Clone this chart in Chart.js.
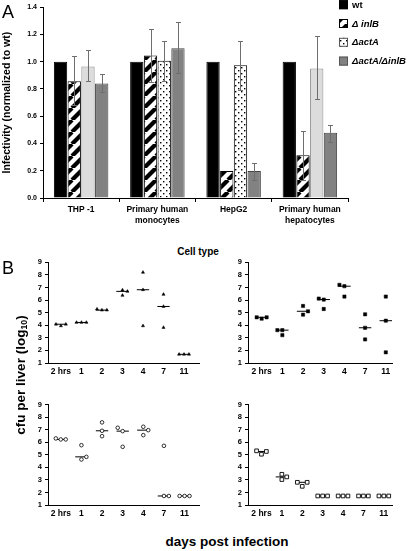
<!DOCTYPE html>
<html>
<head>
<meta charset="utf-8">
<script src="https://cdn.jsdelivr.net/npm/chart.js@4.4.1/dist/chart.umd.min.js"></script>
<style>
    body { margin: 0; background: #fff; width: 410px; height: 551px; position: relative; overflow: hidden; font-family: "Liberation Sans", Arial, sans-serif; }
    canvas { position: absolute; }
    .txt { position: absolute; white-space: nowrap; color: #000; line-height: 1; }
    .mid { transform: translate(-50%, -50%); font-weight: bold; }
    .rot { transform: translate(-50%, -50%) rotate(-90deg); font-weight: bold; }
    sub { font-size: 0.65em; vertical-align: -0.25em; }
</style>
</head>
<body>
<canvas id="barChart" width="410" height="236" style="left:0;top:0"></canvas>
<div class="txt" style="left:2px;top:3px;font-size:18px">A</div>
<div class="txt" style="left:2px;top:259px;font-size:18px">B</div>
<div class="txt mid" style="left:198px;top:252px;font-size:10px">Cell type</div>
<div class="txt rot" style="left:21px;top:375px;font-size:13.5px">cfu per liver (log<sub>10</sub>)</div>
<div class="txt mid" style="left:227px;top:542px;font-size:13.5px">days post infection</div>
<script>
// panel A: infectivity per cell type, normalized to wt
const cellTypes = [['THP -1'], ['Primary human', 'monocytes'], ['HepG2'], ['Primary human', 'hepatocytes']]
const strains = ['wt', 'Δ inlB', 'ΔactA', 'ΔactA/ΔinlB']
const infectivityTicks = [0, 0.2, 0.4, 0.6, 0.8, 1.0, 1.2, 1.4]

const wtInfectivity       = [1, 1, 1, 1]
const inlBInfectivity     = [0.856, 1.046, 0.199, 0.313]
const actAInfectivity     = [0.964, 1.007, 0.974, 0.95]
const actAinlBInfectivity = [0.84, 1.098, 0.199, 0.479]

const inlBErrHi     = [1.039, 1.242, null, 0.495]
const inlBErrLo     = [0.68, 0.85, null, 0.13]
const actAErrHi     = [1.086, 1.151, 1.154, 1.19]
const actAErrLo     = [0.859, 0.86, 0.79, 0.723]
const actAinlBErrHi = [0.91, 1.295, 0.256, 0.533]
const actAinlBErrLo = [0.78, 0.914, 0.134, 0.411]

// panel B: cfu per liver (log10), three mice per time point
const days = ['2 hrs', '1', '2', '3', '4', '7', '11']
const cfuTicks = [1, 2, 3, 4, 5, 6, 7, 8, 9]

const cfuWt       = [[4.08, 3.95, 4.08], [4.22, 4.22, 4.22], [5.28, 5.2, 5.2], [6.8, 6.37, 6.69], [8.2, 6.82, 3.95], [6.45, 5.49, 3.82], [1.69, 1.69, 1.69]]
const cfuInlB     = [[4.63, 4.52, 4.63], [3.61, 3.61, 3.21], [5.53, 4.84, 5.11], [6.12, 6.04, 5.29], [7.21, 7.1, 6.28], [4.87, 3.8, 2.87], [6.28, 4.36, 1.85]]
const cfuActA     = [[6.31, 6.23, 6.23], [5.77, 4.63, 4.84], [7.59, 6.92, 6.49], [7.16, 6.89, 5.64], [7.24, 6.57, 6.97], [5.72, 1.72, 1.72], [1.72, 1.72, 1.72]]
const cfuActAInlB = [[5.32, 5.05, 5.27], [3.45, 3.03, 3.24], [2.81, 2.49, 2.81], [1.72, 1.72, 1.72], [1.72, 1.72, 1.72], [1.72, 1.72, 1.72], [1.72, 1.72, 1.72]]

// which side of the time point each mouse is drawn on (-1 left, 0 centre, 1 right)
const slotsWt       = [[-1, 0, 1], [-1, 0, 1], [-1, 0, 1], [0, 0, 1], [0, 0, 0], [0, 0, 0], [-1, 0, 1]]
const slotsInlB     = [[-1, 0, 1], [-1, 0, 0], [0, 0, 1], [-1, 0, 0], [-1, 0, 0], [0, 0, 0], [0, 0, 0]]
const slotsActA     = [[-1, 0, 1], [0, 0, 1], [0, 0, 0], [-1, 0, 0], [0, 0, 1], [0, 0, 1], [-1, 0, 1]]
const slotsActAInlB = [[-1, 0, 1], [0, 0, 1], [-1, 0, 1], [-1, 0, 1], [-1, 0, 1], [-1, 0, 1], [-1, 0, 1]]

Chart.defaults.font.family = '"Liberation Sans", Arial, sans-serif'
Chart.defaults.color = '#000'

function tile(size, draw) {
    const c = document.createElement('canvas')
    c.width = c.height = size
    const g = c.getContext('2d')
    g.fillStyle = '#fff'
    g.fillRect(0, 0, size, size)
    draw(g)
    return document.getElementById('barChart').getContext('2d').createPattern(c, 'repeat')
}

const hatch = tile(12, g => {
    g.strokeStyle = '#000'
    g.lineWidth = 4.2
    for (const d of [-12, 0, 12]) {
        g.beginPath(); g.moveTo(d, 12); g.lineTo(d + 12, 0); g.stroke()
    }
})
const dots = tile(6, g => {
    g.fillStyle = '#000'
    g.fillRect(1, 1, 1.4, 1.4)
    g.fillRect(4, 4, 1.4, 1.4)
})

const errorBars = {
    id: 'errorBars',
    afterDatasetsDraw(chart) {
        const { ctx, scales: { y } } = chart
        ctx.save()
        ctx.strokeStyle = '#6e6e6e'
        ctx.lineWidth = 1
        chart.data.datasets.forEach((ds, i) => {
            if (!ds.errHi) return
            chart.getDatasetMeta(i).data.forEach((bar, j) => {
                if (ds.errHi[j] == null) return
                const x = Math.round(bar.x) + 0.5
                const yh = Math.round(y.getPixelForValue(ds.errHi[j])) + 0.5
                const yl = Math.round(y.getPixelForValue(ds.errLo[j])) + 0.5
                ctx.beginPath()
                ctx.moveTo(x, yh); ctx.lineTo(x, yl)
                ctx.moveTo(x - 2.5, yh); ctx.lineTo(x + 2.5, yh)
                ctx.moveTo(x - 2.5, yl); ctx.lineTo(x + 2.5, yl)
                ctx.stroke()
            })
        })
        ctx.restore()
    }
}

const legendRows = {
    id: 'legendRows',
    afterDraw(chart) {
        const ctx = chart.ctx
        chart.data.datasets.forEach((ds, i) => {
            const y = 4.7 + i * 18.8
            ctx.save()
            ctx.fillStyle = ds.legendFill
            ctx.fillRect(339, y - 4.5, 9, 9)
            ctx.strokeStyle = ds.legendBorder
            ctx.lineWidth = 1
            ctx.strokeRect(339.5, y - 4, 8, 8)
            ctx.fillStyle = '#000'
            ctx.font = (i === 0 ? 'bold ' : 'italic bold ') + '9.5px "Liberation Sans", Arial'
            ctx.textBaseline = 'middle'
            ctx.fillText(ds.label, 352, y + 0.5)
            ctx.restore()
        })
    }
}

new Chart(document.getElementById('barChart'), {
    type: 'bar',
    data: {
        labels: cellTypes,
        datasets: [
            {
                label: strains[0], data: wtInfectivity,
                backgroundColor: '#000', borderColor: '#000', borderWidth: 1,
                legendFill: '#000', legendBorder: '#000',
            },
            {
                label: strains[1], data: inlBInfectivity, errHi: inlBErrHi, errLo: inlBErrLo,
                backgroundColor: hatch, borderColor: '#000', borderWidth: 1,
                legendFill: hatch, legendBorder: '#000',
            },
            {
                label: strains[2], data: actAInfectivity, errHi: actAErrHi, errLo: actAErrLo,
                backgroundColor: ['#dcdcdc', dots, dots, '#dcdcdc'],
                borderColor: ['#8a8a8a', '#000', '#000', '#8a8a8a'], borderWidth: 1,
                legendFill: dots, legendBorder: '#555',
            },
            {
                label: strains[3], data: actAinlBInfectivity, errHi: actAinlBErrHi, errLo: actAinlBErrLo,
                backgroundColor: '#828282', borderColor: '#444', borderWidth: 1,
                legendFill: '#828282', legendBorder: '#555',
            }
        ]
    },
    options: {
        responsive: false,
        animation: false,
        events: [],
        layout: { padding: { left: 0, top: 3.5, right: 62, bottom: 0 } },
        datasets: { bar: { categoryPercentage: 0.72, barPercentage: 0.97 } },
        plugins: { legend: { display: false }, tooltip: { enabled: false } },
        scales: {
            x: {
                afterFit: s => { s.height = 38 },
                ticks: { font: { size: 8.5, weight: 'bold' }, padding: 3, maxRotation: 0, autoSkip: false },
                grid: { drawOnChartArea: false, tickLength: 4, color: '#000' },
                border: { color: '#000' }
            },
            y: {
                min: 0,
                max: 1.4,
                afterFit: s => { s.width = 43 },
                afterBuildTicks: s => { s.ticks = infectivityTicks.map(value => ({ value })) },
                ticks: { callback: v => v.toFixed(1), font: { size: 7, weight: 'bold' }, padding: 3, autoSkip: false },
                grid: { drawOnChartArea: false, tickLength: 3, color: '#000' },
                border: { color: '#000' },
                title: {
                    display: true, text: 'Infectivity (normalized to wt)',
                    font: { size: 10.5, weight: 'bold' }, padding: { top: 1, bottom: 0 }
                }
            }
        }
    },
    plugins: [errorBars, legendRows]
})

// plot areas of the four liver panels, in page pixels
const panels = [
    { values: cfuWt,       slots: slotsWt,       left: 48,  right: 199, top: 262.3, bottom: 362.7, min: -0.63, max: 6.73, marker: { style: 'triangle', radius: 1.8, fill: '#000', border: 0.5 } },
    { values: cfuInlB,     slots: slotsInlB,     left: 248, right: 392, top: 262.3, bottom: 362.7, min: -0.66, max: 6.3,  marker: { style: 'rect', radius: 2.3, fill: '#000', border: 0.5 } },
    { values: cfuActA,     slots: slotsActA,     left: 48,  right: 199, top: 404.7, bottom: 504.5, min: -0.62, max: 6.7,  marker: { style: 'circle', radius: 1.8, fill: '#fff', border: 0.8 } },
    { values: cfuActAInlB, slots: slotsActAInlB, left: 248, right: 392, top: 404.7, bottom: 504.5, min: -0.66, max: 6.4,  marker: { style: 'rect', radius: 2.6, fill: '#fff', border: 0.9 } },
]

const spread = 0.24
const yAxisWidth = 28
const xAxisHeight = 18

panels.forEach(p => {
    const canvasLeft = p.left - yAxisWidth
    const canvasTop = Math.floor(p.top) - 8
    const canvas = document.createElement('canvas')
    canvas.width = p.right - canvasLeft + 10
    canvas.height = Math.round(p.bottom) - canvasTop + xAxisHeight
    canvas.style.left = canvasLeft + 'px'
    canvas.style.top = canvasTop + 'px'
    document.body.appendChild(canvas)

    const points = []
    const medians = []
    p.values.forEach((reps, i) => {
        reps.forEach((v, k) => points.push({ x: i + p.slots[i][k] * spread, y: v }))
        const m = [...reps].sort((a, b) => a - b)[1]
        medians.push({ x: i - 0.3, y: m }, { x: i + 0.3, y: m }, { x: i + 0.3, y: null })
    })

    new Chart(canvas, {
        type: 'scatter',
        data: {
            datasets: [
                { type: 'line', data: medians, borderColor: '#000', borderWidth: 1, pointRadius: 0, spanGaps: false, order: 2 },
                {
                    data: points, pointStyle: p.marker.style, pointRadius: p.marker.radius,
                    backgroundColor: p.marker.fill, borderColor: '#000', borderWidth: p.marker.border, order: 1
                }
            ]
        },
        options: {
            responsive: false,
            animation: false,
            events: [],
            layout: { padding: { left: 0, top: p.top - canvasTop, right: 10, bottom: 0 } },
            plugins: { legend: { display: false }, tooltip: { enabled: false } },
            scales: {
                x: {
                    type: 'linear',
                    min: p.min,
                    max: p.max,
                    afterFit: s => { s.height = xAxisHeight },
                    afterBuildTicks: s => { s.ticks = days.map((d, i) => ({ value: i })) },
                    ticks: { callback: v => days[v], font: { size: 8.5, weight: 'bold' }, padding: 4, maxRotation: 0, autoSkip: false },
                    grid: { display: false, drawTicks: false },
                    border: { color: '#000', width: 1 }
                },
                y: {
                    min: 1,
                    max: 9,
                    afterFit: s => { s.width = yAxisWidth },
                    afterBuildTicks: s => { s.ticks = cfuTicks.map(value => ({ value })) },
                    ticks: { font: { size: 7.5, weight: 'bold' }, padding: 3, autoSkip: false },
                    grid: { drawOnChartArea: false, tickLength: 3, color: '#000' },
                    border: { color: '#000' }
                }
            }
        }
    })
})
</script>
</body>
</html>
